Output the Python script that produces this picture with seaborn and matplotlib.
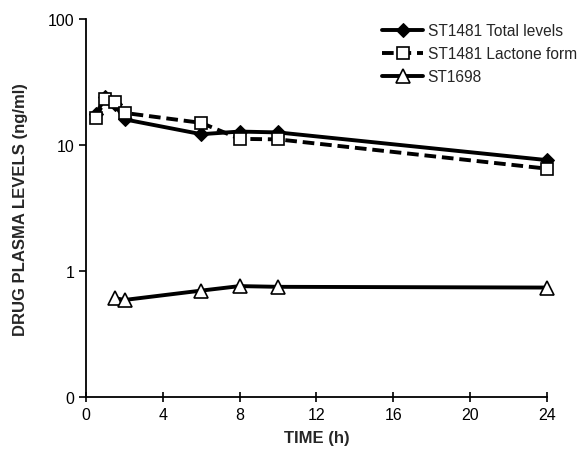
import numpy as np
import pandas as pd
import matplotlib
matplotlib.use("Agg")
import matplotlib.pyplot as plt
import seaborn as sns

# valores (ng/ml frente a horas)
time_total = [0.5, 1, 1.5, 2, 6, 8, 10, 24]
total_levels = [17.5, 24.0, 21.0, 16.0, 12.2, 12.8, 12.6, 7.6]

time_lactone = [0.5, 1, 1.5, 2, 6, 8, 10, 24]
lactone_form = [16.4, 23.0, 22.0, 18.0, 15.0, 11.2, 11.1, 6.5]

time_st1698 = [1.5, 2, 6, 8, 10, 24]
st1698 = [0.61, 0.59, 0.70, 0.76, 0.75, 0.74]

x_ticks = [0, 4, 8, 12, 16, 20, 24]
y_ticks = [0.1, 1, 10, 100]
y_tick_labels = ["0", "1", "10", "100"]

sns.set_style("ticks")
plt.rcParams["font.family"] = ["Liberation Sans", "DejaVu Sans"]

fig = plt.figure(figsize=(5.86, 4.56), dpi=100)
ax = fig.add_axes([0.147, 0.127, 0.786, 0.829])

sns.lineplot(x=time_total, y=total_levels, ax=ax, color="black", linewidth=2.8,
             marker="D", markersize=7, markerfacecolor="black",
             markeredgecolor="black", label="ST1481 Total levels")
sns.lineplot(x=time_lactone, y=lactone_form, ax=ax, color="black", linewidth=2.8,
             linestyle=(0, (3, 1.5)), marker="s", markersize=9,
             markerfacecolor="white", markeredgecolor="black",
             markeredgewidth=1.2, label="ST1481 Lactone form")
sns.lineplot(x=time_st1698, y=st1698, ax=ax, color="black", linewidth=2.8,
             marker="^", markersize=10, markerfacecolor="white",
             markeredgecolor="black", markeredgewidth=1.2, label="ST1698")
for line in ax.get_lines():
    line.set_clip_on(False)

ax.set_yscale("log")
ax.set_ylim(0.1, 100)
ax.set_xlim(0, 24)
ax.set_xticks(x_ticks)
ax.set_yticks(y_ticks)
ax.set_yticklabels(y_tick_labels)
ax.minorticks_off()
ax.tick_params(axis="both", labelsize=11.5, width=1.2, length=5, colors="black")
ax.tick_params(axis="x", direction="inout", length=7)
for side in ["left", "bottom"]:
    ax.spines[side].set_linewidth(1.3)
    ax.spines[side].set_color("black")
sns.despine(ax=ax)

ax.set_xlabel("TIME (h)", fontsize=12, fontweight="bold", labelpad=6)
ax.set_ylabel("DRUG PLASMA LEVELS (ng/ml)", fontsize=12, fontweight="bold", labelpad=14)

ax.legend_.remove()
handles, labels = ax.get_legend_handles_labels()
fig.legend(handles, labels, loc="upper left", bbox_to_anchor=(0.642, 0.96),
           frameon=False, fontsize=11.2, handlelength=2.6, handletextpad=0.3,
           labelspacing=0.5, borderaxespad=0)

fig.savefig("out.png", dpi=100)
